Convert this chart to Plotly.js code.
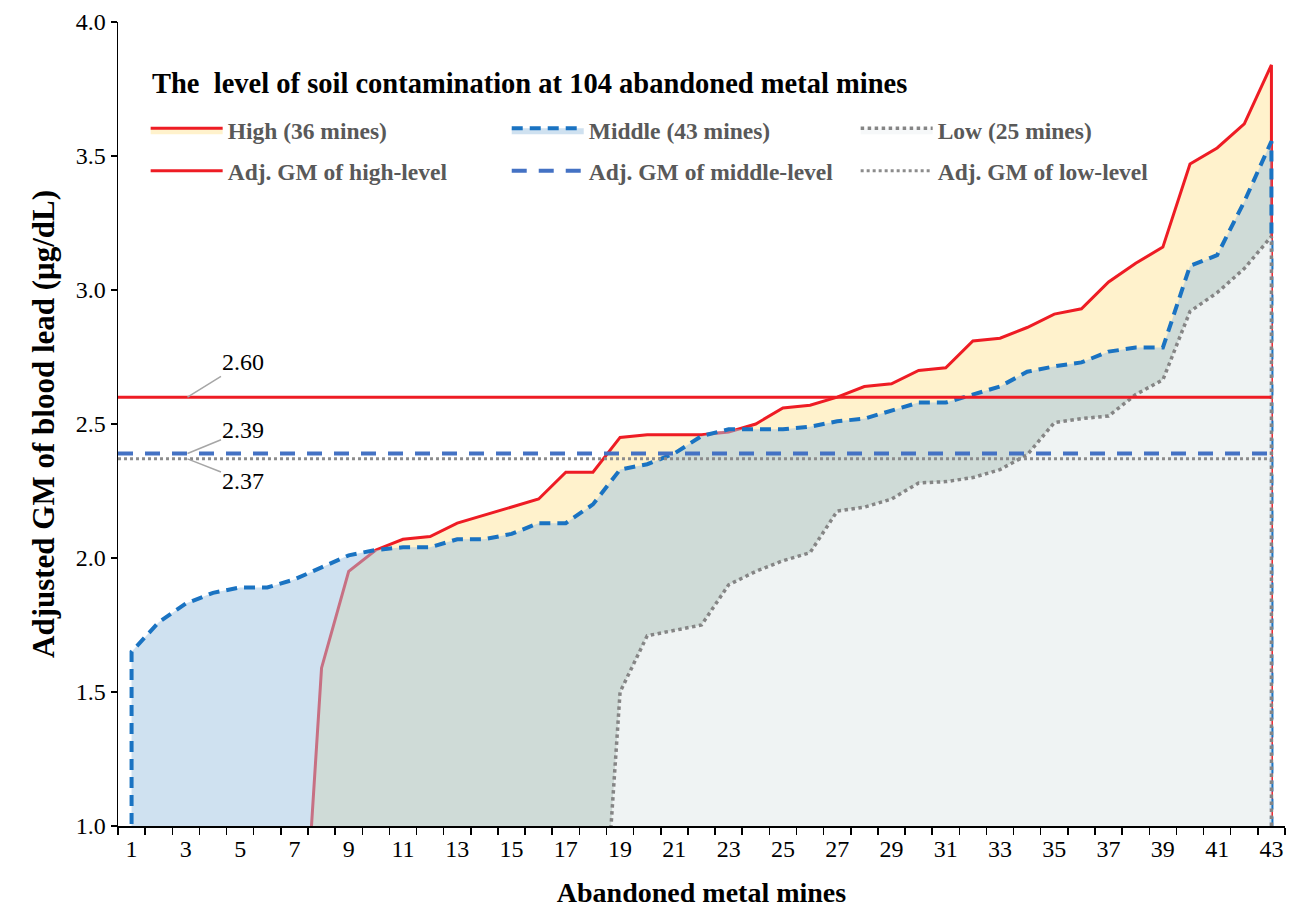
<!DOCTYPE html>
<html>
<head>
<meta charset="utf-8">
<script src="https://cdn.plot.ly/plotly-3.0.1.min.js"></script>
<style>html,body{margin:0;padding:0;background:#fff;}</style>
</head>
<body>
<div id="chart" style="width:1293px;height:913px;"></div>
<script>
// ---- data ----
const mines = [1,2,3,4,5,6,7,8,9,10,11,12,13,14,15,16,17,18,19,20,21,22,23,24,25,26,27,28,29,30,31,32,33,34,35,36,37,38,39,40,41,42,43];
const xTickVals = [1,3,5,7,9,11,13,15,17,19,21,23,25,27,29,31,33,35,37,39,41,43];
const xTickText = ['1','3','5','7','9','11','13','15','17','19','21','23','25','27','29','31','33','35','37','39','41','43'];
// High-level mines (36), sorted; occupy the last 36 positions
const highValues = [1.59,1.95,2.03,2.07,2.08,2.13,2.16,2.19,2.22,2.32,2.32,2.45,2.46,2.46,2.46,2.47,2.50,2.56,2.57,2.60,2.64,2.65,2.70,2.71,2.81,2.82,2.86,2.91,2.93,3.03,3.10,3.16,3.47,3.53,3.62,3.84];
// Middle-level mines (43)
const middleValues = [1.65,1.76,1.83,1.87,1.89,1.89,1.92,1.965,2.01,2.03,2.04,2.04,2.07,2.07,2.09,2.13,2.13,2.20,2.33,2.35,2.39,2.455,2.48,2.48,2.48,2.49,2.51,2.52,2.55,2.58,2.58,2.61,2.64,2.695,2.715,2.73,2.77,2.785,2.785,3.09,3.13,3.33,3.555];
// Low-level mines (25)
const lowValues = [1.50,1.71,1.73,1.75,1.90,1.95,1.99,2.02,2.175,2.19,2.22,2.28,2.285,2.30,2.33,2.385,2.505,2.52,2.53,2.61,2.665,2.92,2.99,3.08,3.20];
// Adjusted geometric means
const gmHigh = 2.60, gmMiddle = 2.39, gmLow = 2.37;
const seriesNames = ['High (36 mines)','Middle (43 mines)','Low (25 mines)'];
const gmNames = ['Adj. GM of high-level','Adj. GM of middle-level','Adj. GM of low-level'];
const blankValue = 0; // empty cells of an area series count as zero

// ---- build area outlines (series right-aligned on the category axis) ----
function areaOutline(vals){
  const start = mines.length - vals.length;
  const xs = [], ys = [];
  if (start > 0) { xs.push(mines[start-1]); ys.push(blankValue); }
  else { xs.push(mines[0]); ys.push(blankValue); }
  for (let i = 0; i < vals.length; i++) { xs.push(mines[start+i]); ys.push(vals[i]); }
  xs.push(mines[mines.length-1]); ys.push(blankValue);
  return {x: xs, y: ys};
}
const hi = areaOutline(highValues), mid = areaOutline(middleValues), lo = areaOutline(lowValues);
const xStart = 0.5, xEnd = mines[mines.length-1] + 0.5;
const lastMine = mines[mines.length-1];

const serif = 'Liberation Serif, Times New Roman, serif';
const traces = [
  {type:'scatter', mode:'lines', name:seriesNames[0], x:hi.x, y:hi.y, fill:'tozeroy',
   fillcolor:'#fff2cc', line:{color:'#ee1c24', width:3}, legend:'legend', legendgroup:'a', hoverinfo:'skip'},
  {type:'scatter', mode:'lines', name:seriesNames[1], x:mid.x, y:mid.y, fill:'tozeroy',
   fillcolor:'rgba(160,196,226,0.5)', line:{color:'#1a73c2', width:4, dash:'11px,7px'}, legend:'legend2', legendgroup:'b', hoverinfo:'skip'},
  {type:'scatter', mode:'lines', name:seriesNames[2], x:lo.x, y:lo.y, fill:'tozeroy',
   fillcolor:'rgba(245,247,248,0.85)', line:{color:'#858585', width:3.5, dash:'3.5px,3.5px'}, legend:'legend3', legendgroup:'c', hoverinfo:'skip'},
  {type:'scatter', mode:'lines', name:gmNames[0], x:[xStart, lastMine], y:[gmHigh, gmHigh],
   line:{color:'#ee1c24', width:3}, legend:'legend', legendgroup:'d', hoverinfo:'skip'},
  {type:'scatter', mode:'lines', name:gmNames[1], x:[xStart, lastMine], y:[gmMiddle, gmMiddle],
   line:{color:'#4472c4', width:4, dash:'15px,12px'}, legend:'legend2', legendgroup:'e', hoverinfo:'skip'},
  {type:'scatter', mode:'lines', name:gmNames[2], x:[xStart, lastMine], y:[gmLow, gmLow],
   line:{color:'#8c8c8c', width:3, dash:'3px,3px'}, legend:'legend3', legendgroup:'f', hoverinfo:'skip'}
];

const legendBase = {yanchor:'top', xanchor:'left', y:0.8925, bgcolor:'rgba(0,0,0,0)', itemwidth:72,
  tracegroupgap:7, traceorder:'grouped', font:{family:serif, size:23.5, color:'#595959', weight:'bold'}};

const layout = {
  width:1293, height:913,
  margin:{l:118, r:8, t:22, b:87},
  paper_bgcolor:'#fff', plot_bgcolor:'#fff',
  showlegend:true,
  legend: Object.assign({}, legendBase, {x:0.0237}),
  legend2: Object.assign({}, legendBase, {x:0.3331}),
  legend3: Object.assign({}, legendBase, {x:0.6321}),
  xaxis:{range:[xStart, xEnd], tickmode:'array', tickvals:xTickVals, ticktext:xTickText, ticks:'',
    minor:{tick0:0.5, dtick:1, ticks:'outside', ticklen:7, tickwidth:1.5, tickcolor:'#000', showgrid:false},
    showline:true, linecolor:'#000', linewidth:2, showgrid:false, zeroline:false,
    tickfont:{family:serif, size:24, color:'#000'},
    title:{text:'<b>Abandoned metal mines</b>', font:{family:serif, size:28, color:'#000'}, standoff:22}},
  yaxis:{range:[1,4], tick0:1, dtick:0.5, tickformat:'.1f', ticks:'outside', ticklen:6, tickwidth:1.5, tickcolor:'#000',
    showline:true, linecolor:'#000', linewidth:1.5, showgrid:false, zeroline:false,
    tickfont:{family:serif, size:24, color:'#000'},
    title:{text:'<b>Adjusted GM of blood lead (μg/dL)</b>', font:{family:serif, size:31, color:'#000'}, standoff:12}},
  annotations:[
    {xref:'paper', yref:'paper', x:0.027, y:0.923, xanchor:'left', yanchor:'middle', showarrow:false,
     text:'<b>The  level of soil contamination at 104 abandoned metal mines</b>', font:{family:serif, size:28.5, color:'#000'}},
    {x:3.06, y:gmHigh, text:String(gmHigh.toFixed(2)), showarrow:true, arrowhead:0, arrowwidth:1.5, arrowcolor:'#a6a6a6',
     ax:56, ay:-35, font:{family:serif, size:24, color:'#000'}},
    {x:3.06, y:gmMiddle, text:String(gmMiddle.toFixed(2)), showarrow:true, arrowhead:0, arrowwidth:1.5, arrowcolor:'#a6a6a6',
     ax:56, ay:-23, font:{family:serif, size:24, color:'#000'}},
    {x:3.06, y:gmLow, text:String(gmLow.toFixed(2)), showarrow:true, arrowhead:0, arrowwidth:1.5, arrowcolor:'#a6a6a6',
     ax:56, ay:22, font:{family:serif, size:24, color:'#000'}}
  ]
};
Plotly.newPlot('chart', traces, layout, {staticPlot:true, displayModeBar:false});
</script>
</body>
</html>
